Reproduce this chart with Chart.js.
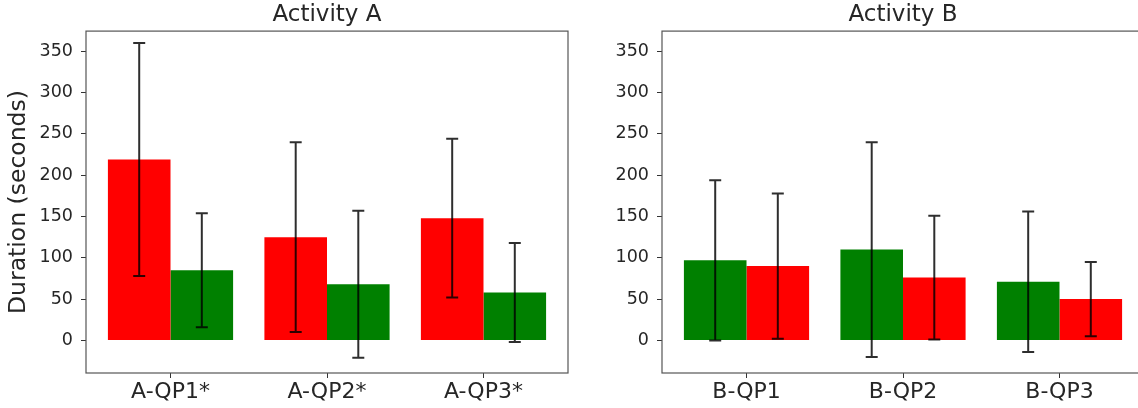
<!DOCTYPE html>
<html>
<head>
<meta charset="utf-8">
<script src="https://cdn.jsdelivr.net/npm/chart.js@4.4.1/dist/chart.umd.min.js"></script>
<style>
  html, body { margin: 0; padding: 0; background: #fff; overflow: hidden; width: 1138px; height: 408px; }
  #wrapA { position: absolute; left: 0; top: 0; width: 570px; height: 408px; }
  #wrapB { position: absolute; left: 576px; top: 0; width: 568px; height: 408px; }
</style>
</head>
<body>
<div id="wrapA"><canvas id="chartA"></canvas></div>
<div id="wrapB"><canvas id="chartB"></canvas></div>
<script>
// ---- Data ----
const categoriesA = ['A-QP1*', 'A-QP2*', 'A-QP3*'];
const redA = [219, 125, 148];
const redAErr = [141, 115, 96];
const greenA = [85, 68, 58];
const greenAErr = [69, 89, 60];

const categoriesB = ['B-QP1', 'B-QP2', 'B-QP3'];
const greenB = [97, 110, 71];
const greenBErr = [97, 130, 85];
const redB = [90, 76, 50];
const redBErr = [88, 75, 45];

const yTicks = [0, 50, 100, 150, 200, 250, 300, 350];

// ---- Styles ----
const FONT = 'DejaVu Sans';
const RED = '#ff0000';
const GREEN = '#008000';
const TEXT = '#262626';

function toPoints(vals) { return vals.map((v, i) => ({ x: i, y: v })); }

const errorBarPlugin = {
  id: 'errorBars',
  afterDatasetsDraw(chart) {
    const ctx = chart.ctx;
    const yScale = chart.scales.y;
    ctx.save();
    ctx.strokeStyle = 'rgba(0,0,0,0.82)';
    ctx.lineWidth = 2;
    chart.data.datasets.forEach((ds, di) => {
      const meta = chart.getDatasetMeta(di);
      meta.data.forEach((bar, j) => {
        const v = ds.data[j].y, e = ds.errors[j];
        const x = bar.x;
        const yTop = yScale.getPixelForValue(v + e);
        const yBot = yScale.getPixelForValue(v - e);
        ctx.beginPath();
        ctx.moveTo(x, yTop); ctx.lineTo(x, yBot);
        ctx.moveTo(x - 6, yTop); ctx.lineTo(x + 6, yTop);
        ctx.moveTo(x - 6, yBot); ctx.lineTo(x + 6, yBot);
        ctx.stroke();
      });
    });
    ctx.restore();
  }
};

const framePlugin = {
  id: 'frame',
  afterDraw(chart) {
    const a = chart.chartArea;
    const ctx = chart.ctx;
    ctx.save();
    ctx.strokeStyle = '#555';
    ctx.lineWidth = 1.2;
    ctx.strokeRect(a.left, a.top, a.right - a.left, a.bottom - a.top);
    ctx.restore();
  }
};

function makeChart(id, title, cats, dsList, showYLabel, padRight) {
  return new Chart(document.getElementById(id), {
    type: 'bar',
    data: {
      datasets: dsList.map(d => ({
        data: toPoints(d.values),
        errors: d.errors,
        backgroundColor: d.color,
        borderWidth: 0,
        categoryPercentage: 0.8,
        barPercentage: 1.0
      }))
    },
    options: {
      responsive: true,
      maintainAspectRatio: false,
      animation: false,
      layout: { padding: { left: 0, right: padRight, top: 0, bottom: 0 } },
      plugins: {
        legend: { display: false },
        tooltip: { enabled: false },
        title: {
          display: true,
          text: title,
          fullSize: false,
          color: TEXT,
          font: { family: FONT, size: 23, weight: 'normal', lineHeight: 1.2 },
          padding: { top: 1, bottom: 2.5 }
        }
      },
      scales: {
        x: {
          type: 'linear',
          min: -0.54,
          max: 2.54,
          offset: false,
          afterBuildTicks: axis => { axis.ticks = cats.map((c, i) => ({ value: i })); },
          afterFit: axis => { axis.height = 35; },
          ticks: {
            color: TEXT,
            font: { family: FONT, size: 22 },
            padding: 1.5,
            maxRotation: 0,
            callback: (v) => cats[v]
          },
          grid: { offset: false, drawOnChartArea: false, drawTicks: true, tickLength: 5, color: '#333' },
          border: { display: false }
        },
        y: {
          min: -39.5,
          max: 374.5,
          afterBuildTicks: axis => { axis.ticks = yTicks.map(v => ({ value: v })); },
          afterFit: axis => { axis.width = 86; },
          ticks: {
            color: TEXT,
            font: { family: FONT, size: 17.5 },
            padding: 8
          },
          grid: { drawOnChartArea: false, drawTicks: true, tickLength: 5, color: '#333' },
          border: { display: false },
          title: {
            display: showYLabel,
            text: 'Duration (seconds)',
            color: TEXT,
            font: { family: FONT, size: 23.5 },
            padding: { top: 5, bottom: 0 }
          }
        }
      }
    },
    plugins: [errorBarPlugin, framePlugin]
  });
}

makeChart('chartA', 'Activity A', categoriesA, [
  { values: redA, errors: redAErr, color: RED },
  { values: greenA, errors: greenAErr, color: GREEN }
], true, 2);

makeChart('chartB', 'Activity B', categoriesB, [
  { values: greenB, errors: greenBErr, color: GREEN },
  { values: redB, errors: redBErr, color: RED }
], false, 0);
</script>
</body>
</html>
